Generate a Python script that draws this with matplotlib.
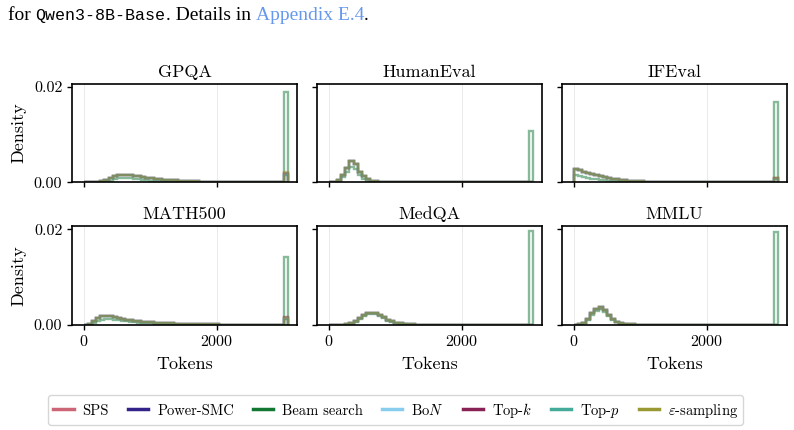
import numpy as np
import matplotlib
matplotlib.use("Agg")
import matplotlib.pyplot as plt
from matplotlib.lines import Line2D

plt.rcParams["font.family"] = "serif"
plt.rcParams["font.serif"] = ["cmr10", "DejaVu Serif"]
plt.rcParams["mathtext.fontset"] = "cm"
plt.rcParams["axes.formatter.use_mathtext"] = True

# --- data (densities in units of 1e-4) ---
datasets = ["GPQA", "HumanEval", "IFEval", "MATH500", "MedQA", "MMLU"]
methods = ["SPS", "Power-SMC", "Beam search", r"Bo$N$", r"Top-$k$", r"Top-$p$", r"$\varepsilon$-sampling"]
colors = ["#CC6677", "#332288", "#117733", "#88CCEE", "#882255", "#44AA99", "#999933"]

max_tokens = 3072
n_bins = 50

# body of each histogram from the first bin on (sampling methods / beam search)
gpqa_sampling = [0, 0, 0, 1, 2, 5, 9, 13, 15, 16, 16, 15, 13, 12, 10, 9, 8, 7, 6, 5, 5, 4, 4, 3, 3, 2, 2, 2, 1, 1, 1, 1]
gpqa_beam = [0, 0, 0, 0, 1, 2, 3, 6, 8, 9, 9, 8, 7, 6, 5, 4, 3, 3, 2, 2, 1, 1]
humaneval_sampling = [0, 1, 5, 14, 30, 45, 38, 22, 12, 6, 3, 2, 1, 1]
humaneval_beam = [0, 0, 3, 10, 22, 32, 28, 15, 7, 3, 1]
ifeval_sampling = [27, 25, 22, 20, 18, 15, 13, 11, 9, 7, 6, 5, 4, 3, 3, 2, 2, 1, 1]
ifeval_beam = [15, 13, 11, 9, 7, 6, 5, 4, 3, 2, 2, 1, 1]
math500_sampling = [0, 2, 8, 14, 17, 18, 17, 16, 14, 12, 10, 9, 8, 7, 6, 5, 5, 4, 4, 3, 3, 3, 2, 2, 2, 2, 1, 1, 1, 1, 1, 1, 1]
math500_beam = [0, 0, 4, 8, 10, 11, 11, 10, 9, 8, 7, 6, 5, 4, 4, 3, 3, 2, 2, 2, 1, 1, 1]
medqa_sampling = [0, 0, 0, 0, 1, 3, 8, 14, 20, 24, 25, 24, 20, 15, 10, 7, 4, 3, 2, 1, 1]
medqa_beam = [0, 0, 0, 0, 0, 1, 6, 12, 18, 22, 23, 22, 18, 13, 8, 5, 3, 2, 1]
mmlu_sampling = [0, 1, 4, 12, 24, 33, 36, 30, 20, 12, 6, 3, 2, 1, 1]
mmlu_beam = [0, 0, 3, 10, 20, 29, 32, 27, 17, 10, 5, 2, 1]

# last bin (responses hitting the token limit), one value per method
gpqa_last = [18, 15, 190, 17, 20, 16, 22]
humaneval_last = [0, 0, 108, 0, 0, 0, 0]
ifeval_last = [8, 6, 168, 7, 9, 6, 8]
math500_last = [14, 12, 142, 13, 15, 12, 14]
medqa_last = [0, 0, 196, 0, 0, 0, 0]
mmlu_last = [0, 0, 194, 0, 0, 0, 0]

bodies = {
    "GPQA": (gpqa_sampling, gpqa_beam, gpqa_last),
    "HumanEval": (humaneval_sampling, humaneval_beam, humaneval_last),
    "IFEval": (ifeval_sampling, ifeval_beam, ifeval_last),
    "MATH500": (math500_sampling, math500_beam, math500_last),
    "MedQA": (medqa_sampling, medqa_beam, medqa_last),
    "MMLU": (mmlu_sampling, mmlu_beam, mmlu_last),
}

bin_edges = np.linspace(0, max_tokens, n_bins + 1)


def full_hist(body, last):
    v = np.zeros(n_bins)
    v[:len(body)] = body
    v[-1] = last
    return v * 1e-4


# --- figure ---
fig, axes = plt.subplots(2, 3, figsize=(7.94, 4.30), dpi=100, sharex=True, sharey=True)
fig.subplots_adjust(left=0.0907, right=0.9912, top=0.8047, bottom=0.2453, wspace=0.089, hspace=0.45)

for ax, name in zip(axes.flat, datasets):
    sampling, beam, last = bodies[name]
    for j, (m, c) in enumerate(zip(methods, colors)):
        body = beam if m == "Beam search" else sampling
        ax.stairs(full_hist(body, last[j]), bin_edges, color=c, lw=1.7, alpha=0.5, baseline=0)
    ax.set_title(name, fontsize=13, pad=5)
    ax.set_xlim(-180, 3200)
    ax.set_ylim(0, 0.0206)
    ax.set_xticks([0, 2000])
    ax.set_yticks([0, 0.02])
    ax.yaxis.set_major_formatter(plt.FormatStrFormatter("%.2f"))
    ax.grid(True, axis="x", color="#e6e6e6", lw=0.6)
    ax.set_axisbelow(True)
    ax.tick_params(direction="out", length=3.5, width=1, labelsize=11.5)
    for s in ax.spines.values():
        s.set_linewidth(1.2)

for ax in axes[:, 0]:
    ax.set_ylabel("Density", fontsize=13, labelpad=5)
for ax in axes[1, :]:
    ax.set_xlabel("Tokens", fontsize=13, labelpad=5)

handles = [Line2D([], [], color=c, lw=2.5) for c in colors]
fig.legend(handles, methods, loc="center", bbox_to_anchor=(0.4985, 0.0465), ncol=7,
           fontsize=10.5, frameon=True, edgecolor="#cccccc", fancybox=True,
           handlelength=1.4, columnspacing=1.3, handletextpad=0.6, borderpad=0.35)

# caption fragment above the figure
r = fig.canvas.get_renderer()
x = 8 / 794
y = 1 - 20 / 430
parts = [("for ", "Liberation Serif", "black", 14),
         ("Qwen3-8B-Base", "Liberation Mono", "black", 12),
         (". Details in ", "Liberation Serif", "black", 14),
         ("Appendix E.4", "Liberation Serif", "#6699ee", 14),
         (".", "Liberation Serif", "black", 14)]
for s, fam, col, fs in parts:
    t = fig.text(x, y, s, family=fam, color=col, fontsize=fs, va="baseline", ha="left")
    bb = t.get_window_extent(renderer=r)
    x = x + bb.width / fig.bbox.width

fig.savefig("out.png", dpi=100)
